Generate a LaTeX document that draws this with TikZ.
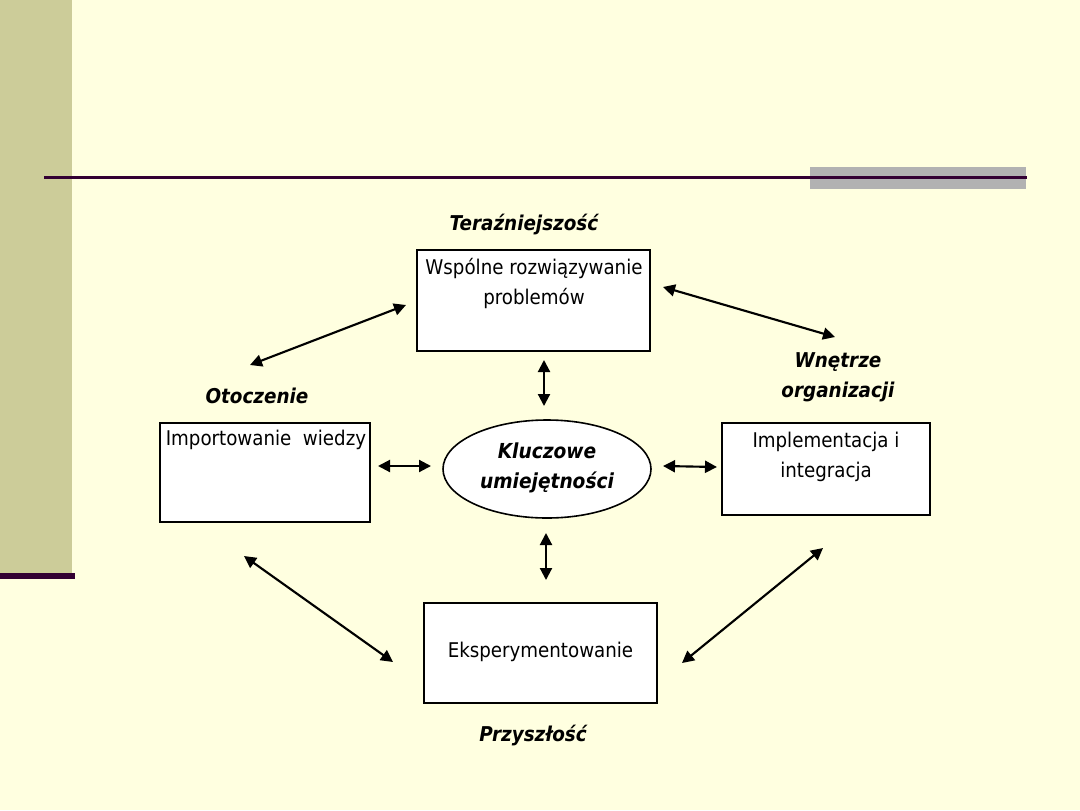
\documentclass[tikz,border=0pt]{standalone}
\usepackage{fontspec}
\setmainfont{DejaVu Sans Condensed}
\newfontfamily\lblfont{DejaVu Sans Condensed}
\usetikzlibrary{arrows.meta,shapes.geometric}
\definecolor{bgc}{RGB}{255,255,224}
\definecolor{sidec}{RGB}{204,204,153}
\definecolor{linec}{RGB}{51,0,51}
\definecolor{grayc}{RGB}{178,178,178}
\tikzset{
  boxn/.style={draw=black, line width=1.2pt, fill=white, rectangle, inner sep=0pt},
  boxtext/.style={align=center, font=\fontsize{15.2}{22.5}\selectfont, inner sep=0pt, anchor=center},
  lbl/.style={align=center, font=\lblfont\bfseries\itshape\fontsize{15.3}{22.5}\selectfont, inner sep=0pt},
  dbl/.style={{Triangle[length=9pt,width=9pt]}-{Triangle[length=9pt,width=9pt]}, line width=1.6pt, black},
}
\begin{document}
\begin{tikzpicture}[x=0.75pt,y=-0.75pt]
\useasboundingbox (0,0) rectangle (1080,810);
\fill[bgc] (0,0) rectangle (1080,810);
\fill[sidec] (0,0) rectangle (72,574);
\fill[linec] (0,573) rectangle (75,579);
\fill[grayc] (810,167) rectangle (1026,189);
\fill[linec] (44,175.5) rectangle (1027,178.5);

% boxes
\node[boxn, minimum width=233*0.75pt, minimum height=101*0.75pt] (top) at (533.5,300.5) {};
\node[boxtext] (toptxt) at (534,283) {Wspólne rozwiązywanie\\problemów};
\node[boxn, minimum width=210*0.75pt, minimum height=99*0.75pt] (left) at (265,472.5) {};
\node[boxtext] (lefttxt) at (266,440) {Importowanie\ \ wiedzy};
\node[boxn, minimum width=208*0.75pt, minimum height=92*0.75pt] (right) at (826,469) {};
\node[boxtext] (righttxt) at (826,456.5) {Implementacja i\\integracja};
\node[boxn, minimum width=233*0.75pt, minimum height=100*0.75pt] (bottom) at (540.5,653) {};
\node[boxtext] (bottomtxt) at (540.5,652) {Eksperymentowanie};

\node[draw=black, line width=1.2pt, fill=white, ellipse, minimum width=208*0.75pt, minimum height=98*0.75pt, inner sep=0pt] (core) at (547,469) {};
\node[lbl, font=\lblfont\bfseries\itshape\fontsize{15.5}{22.5}\selectfont] (coretxt) at (547,468) {Kluczowe\\umiejętności};

% labels
\node[lbl] (teraz) at (524,225) {Teraźniejszość};
\node[lbl] (otocz) at (257,396) {Otoczenie};
\node[lbl] (wnetrze) at (838,377) {Wnętrze\\organizacji};
\node[lbl] (przysz) at (533,735) {Przyszłość};

% arrow endpoints
\coordinate (a1) at (406,305); \coordinate (a2) at (250,365);
\coordinate (b1) at (663,287); \coordinate (b2) at (835,337);
\coordinate (c1) at (544,360); \coordinate (c2) at (544,406);
\coordinate (d1) at (378,466); \coordinate (d2) at (431,466);
\coordinate (e1) at (663,466); \coordinate (e2) at (717,467);
\coordinate (f1) at (546,533); \coordinate (f2) at (546,580);
\coordinate (g1) at (244,556); \coordinate (g2) at (393,662);
\coordinate (h1) at (823,548); \coordinate (h2) at (682,663);

\draw[dbl] (a1) -- (a2);
\draw[dbl] (b1) -- (b2);
\draw[dbl] (c1) -- (c2);
\draw[dbl] (d1) -- (d2);
\draw[dbl] (e1) -- (e2);
\draw[dbl] (f1) -- (f2);
\draw[dbl] (g1) -- (g2);
\draw[dbl] (h1) -- (h2);
\end{tikzpicture}
\end{document}
